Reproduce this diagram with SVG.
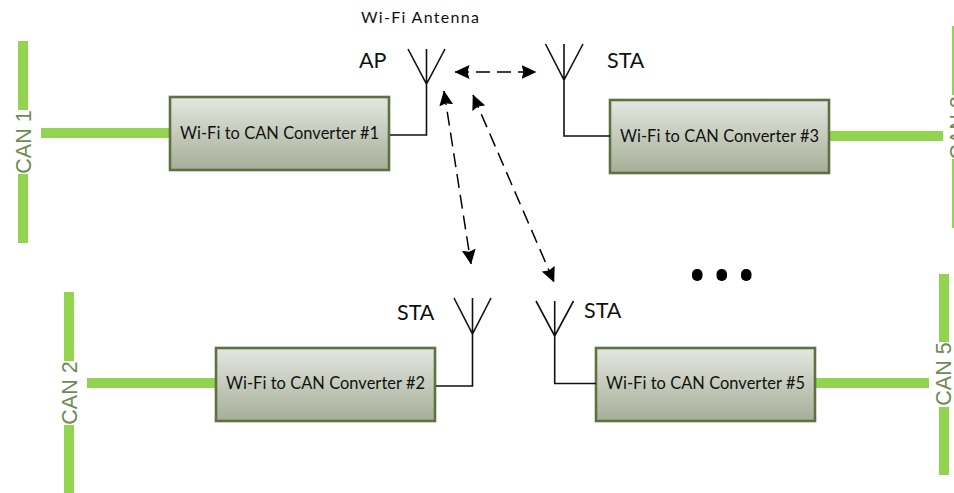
<svg xmlns="http://www.w3.org/2000/svg" width="954" height="493" viewBox="0 0 954 493">
<style>
.box{fill:url(#g);stroke:#5f7042;stroke-width:2.6}
.bus{fill:#92d350}
.lbl{font-family:"Lato","Liberation Sans",sans-serif;font-size:16.4px;fill:#111}
.tag{font-family:"Lato","Liberation Sans",sans-serif;font-size:21.5px;fill:#111}
.can{font-family:"Liberation Sans",Arial,sans-serif;font-size:21.5px;fill:#6f8a55;text-anchor:middle}
.wire{fill:none;stroke:#111;stroke-width:1.6}
.dash{fill:none;stroke:#000;stroke-width:1.5;stroke-dasharray:14 7;marker-start:url(#a);marker-end:url(#a)}
</style>
<defs>
<linearGradient id="g" x1="0" y1="0" x2="0" y2="1"><stop offset="0" stop-color="#e4e7e0"/><stop offset="1" stop-color="#a6ae97"/></linearGradient>
<marker id="a" viewBox="0 0 15 14" refX="14.5" refY="7" markerWidth="15" markerHeight="14" markerUnits="userSpaceOnUse" orient="auto-start-reverse"><path d="M0 0L15 7L0 14L2 7Z" fill="#000"/></marker>
</defs>
<rect width="954" height="493" fill="#fff"/>
<g id="can1"><rect class="bus" x="18" y="41" width="10" height="69"/><rect class="bus" x="18" y="174" width="10" height="69"/><rect class="bus" x="41" y="128" width="129" height="10"/><text class="can" transform="translate(31,142) rotate(-90)">CAN 1</text></g>
<g id="can2"><rect class="bus" x="64" y="292" width="10" height="69"/><rect class="bus" x="64" y="425" width="10" height="68"/><rect class="bus" x="87" y="378" width="129" height="10"/><text class="can" transform="translate(77,393) rotate(-90)">CAN 2</text></g>
<g id="can3"><rect class="bus" x="952" y="26" width="10" height="69"/><rect class="bus" x="952" y="159" width="10" height="69"/><rect class="bus" x="830" y="131" width="113" height="10"/><text class="can" transform="translate(965,128) rotate(-90)">CAN 2</text></g>
<g id="can5"><rect class="bus" x="939" y="274" width="10" height="68"/><rect class="bus" x="939" y="407" width="10" height="68"/><rect class="bus" x="816" y="378" width="113" height="10"/><text class="can" transform="translate(951,374) rotate(-90)">CAN 5</text></g>
<g id="conv1"><rect class="box" x="170" y="97" width="219" height="73"/><text class="lbl" x="180" y="139" textLength="199">Wi-Fi to CAN Converter #1</text></g>
<g id="conv3"><rect class="box" x="610" y="100" width="219" height="73"/><text class="lbl" x="620" y="142" textLength="199">Wi-Fi to CAN Converter #3</text></g>
<g id="conv2"><rect class="box" x="216" y="348" width="219" height="73"/><text class="lbl" x="226" y="389" textLength="199">Wi-Fi to CAN Converter #2</text></g>
<g id="conv5"><rect class="box" x="596" y="348" width="219" height="73"/><text class="lbl" x="606" y="389" textLength="199">Wi-Fi to CAN Converter #5</text></g>
<g id="connectors">
<path class="wire" d="M408 49L426.500 84L445 49M426.500 49V135H390"/>
<path class="wire" d="M545.500 44L564 80L583 44M564 44V136H610"/>
<path class="wire" d="M454 298L472.500 334L491 298M472.500 298V386H436"/>
<path class="wire" d="M536 301L554.700 336L573.500 301M554.700 301V383.500H596"/>
<path class="dash" d="M455 72H536"/>
<path class="dash" d="M444 91L471 264"/>
<path class="dash" d="M473 95L554 282"/>
</g>
<g id="labels">
<text x="361" y="23" font-family="Lato,'Liberation Sans',sans-serif" font-size="16" fill="#111" textLength="118">Wi-Fi Antenna</text>
<text class="tag" x="359" y="68">AP</text>
<text class="tag" x="607" y="68">STA</text>
<text class="tag" x="397" y="320">STA</text>
<text class="tag" x="584" y="318">STA</text>
</g>
<g id="dots" fill="#000"><rect x="692" y="269" width="10.500" height="12" rx="5"/><rect x="716.500" y="269" width="10.500" height="12" rx="5"/><rect x="741" y="269" width="10.500" height="12" rx="5"/></g>
</svg>
